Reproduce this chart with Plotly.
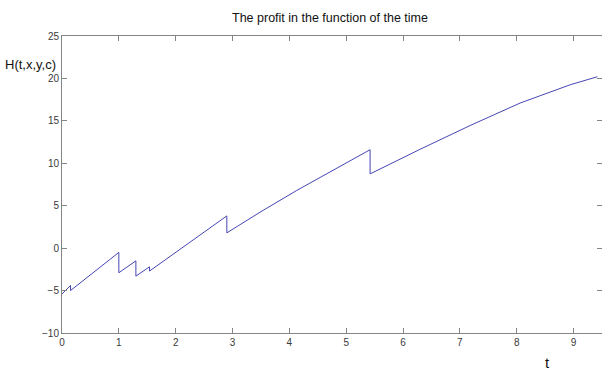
import plotly.graph_objects as go

# Data
t_values = [0, 0.15, 0.15, 1.0, 1.0, 1.3, 1.3, 1.54, 1.54, 2.25, 2.9, 2.9,
            3.5, 4.13, 4.8, 5.42, 5.42, 6.3, 7.18, 8.06, 8.94, 9.42]
h_values = [-5.4, -4.4, -5.0, -0.5, -2.9, -1.5, -3.3, -2.2, -2.7, 0.75, 3.8, 1.8,
            4.3, 6.8, 9.3, 11.6, 8.75, 11.65, 14.45, 17.1, 19.25, 20.2]
x_ticks = list(range(0, 10))
y_ticks = [-10, -5, 0, 5, 10, 15, 20, 25]

title_text = "The profit in the function of the time"
y_label = "H(t,x,y,c)"
x_label = "t"

FONT = "Liberation Sans Narrow, Liberation Sans, Arial, sans-serif"
AXIS_COLOR = "#858585"
TEXT_COLOR = "#3a3a3a"

fig = go.Figure()
fig.add_trace(go.Scatter(x=t_values, y=h_values, mode="lines",
                         line=dict(color="#4646b4", width=1), hoverinfo="skip"))

axis_common = dict(showgrid=False, zeroline=False, showline=True, linecolor=AXIS_COLOR,
                   linewidth=1, mirror="ticks", ticks="inside", ticklen=5,
                   tickcolor=AXIS_COLOR, tickwidth=1,
                   tickfont=dict(family=FONT, size=10, color=TEXT_COLOR))

L, R, T, B = 62, 0, 36, 39
W, H = 602, 372
pw = W - L - R
ph = H - T - B

fig.update_layout(
    width=W, height=H,
    margin=dict(l=L, r=R, t=T, b=B),
    paper_bgcolor="white", plot_bgcolor="white",
    showlegend=False,
    title=dict(text=title_text, x=330 / W, xanchor="center", y=1 - 18 / H, yanchor="middle",
               font=dict(family=FONT, size=12.5, color="#111111")),
    xaxis=dict(range=[0, 9.5], tickvals=x_ticks, **axis_common),
    yaxis=dict(range=[-10, 25], tickvals=y_ticks, **axis_common),
    annotations=[
        dict(text=y_label, x=(30 - L) / pw, y=(H - B - 64) / ph, xref="paper", yref="paper",
             xanchor="center", yanchor="middle", showarrow=False,
             font=dict(family=FONT, size=13, color="#111111")),
        dict(text=x_label, x=(547 - L) / pw, y=(H - B - 362) / ph, xref="paper", yref="paper",
             xanchor="center", yanchor="middle", showarrow=False,
             font=dict(family=FONT, size=15, color="#111111")),
    ],
)

fig.write_html("out.html")
